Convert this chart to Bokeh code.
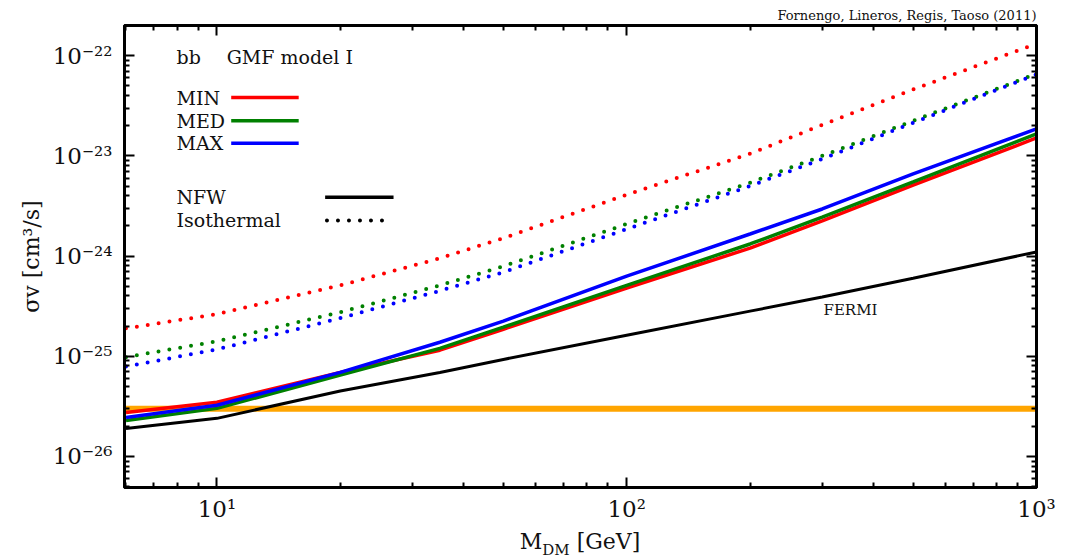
import math
from bokeh.plotting import figure
from bokeh.layouts import column
from bokeh.models import (FixedTicker, LogAxis, CustomJSTickFormatter, Label, Div)
from bokeh.embed import file_html
from bokeh.resources import INLINE

# ---------------- data ----------------
mass = [6, 10, 20, 35, 50, 100, 200, 300, 500, 1000]

nfw_min = [2.75e-26, 3.47e-26, 6.9e-26, 1.15e-25, 1.86e-25, 4.8e-25, 1.2e-24, 2.24e-24, 5.1e-24, 1.51e-23]
nfw_med = [2.29e-26, 3.02e-26, 6.5e-26, 1.2e-25, 1.95e-25, 5.1e-25, 1.32e-24, 2.45e-24, 5.5e-24, 1.66e-23]
nfw_max = [2.45e-26, 3.24e-26, 6.9e-26, 1.38e-25, 2.24e-25, 6.3e-25, 1.66e-24, 2.95e-24, 6.6e-24, 1.86e-23]

iso_min = [1.9e-25, 2.63e-25, 5.1e-25, 9.5e-25, 1.51e-24, 4.1e-24, 1.05e-23, 2.04e-23, 4.6e-23, 1.32e-22]
iso_med = [9.8e-26, 1.41e-25, 2.75e-25, 5.1e-25, 7.9e-25, 2.09e-24, 5.4e-24, 1.0e-23, 2.24e-23, 6.6e-23]
iso_max = [7.9e-26, 1.17e-25, 2.4e-25, 4.5e-25, 6.9e-25, 1.86e-24, 5.0e-24, 9.3e-24, 2.14e-23, 6.5e-23]

fermi = [1.9e-26, 2.4e-26, 4.5e-26, 6.9e-26, 9.3e-26, 1.62e-25, 2.82e-25, 3.9e-25, 6.0e-25, 1.1e-24]

thermal = 3e-26

x_major = [10, 100, 1000]
y_major = [1e-26, 1e-25, 1e-24, 1e-23, 1e-22]

# ---------------- layout ----------------
XR = (5.95, 1000.0)
YR = (4.9e-27, 2.0e-22)
FONT = "DejaVu Serif"

lx0, lx1 = math.log10(XR[0]), math.log10(XR[1])
ly0, ly1 = math.log10(YR[0]), math.log10(YR[1])
def fx(f):
    return 10 ** (lx0 + f * (lx1 - lx0))
def fy(f):
    return 10 ** (ly0 + f * (ly1 - ly0))

p = figure(x_axis_type="log", y_axis_type="log", x_range=XR, y_range=YR,
           frame_width=912, frame_height=462,
           min_border_left=124, min_border_right=27, min_border_top=25, min_border_bottom=42,
           output_backend="svg", toolbar_location=None)
p.grid.visible = False
p.outline_line_color = "black"
p.outline_line_width = 3
p.background_fill_color = "white"
p.border_fill_color = "white"

p.title.text = "Fornengo, Lineros, Regis, Taoso (2011)"
p.title.align = "right"
p.title.text_font = FONT
p.title.text_font_size = "13px"
p.title.text_font_style = "normal"
p.title.text_color = "#111111"
p.title.standoff = 6

x_minor = [k * 10 ** n for n in range(0, 3) for k in range(2, 10) if XR[0] <= k * 10 ** n <= XR[1]]
y_minor = [k * 10.0 ** n for n in range(-27, -21) for k in range(2, 10) if YR[0] <= k * 10.0 ** n <= YR[1]]

sup_code = """
const e = Math.round(Math.log10(tick));
const sup = {'-':'\u207b','0':'\u2070','1':'\u00b9','2':'\u00b2','3':'\u00b3','4':'\u2074','5':'\u2075','6':'\u2076','7':'\u2077','8':'\u2078','9':'\u2079'};
return '10' + String(e).split('').map(c => sup[c]).join('');
"""

def style_axis(ax, ticks, minors, show_labels):
    ax.ticker = FixedTicker(ticks=ticks, minor_ticks=minors)
    ax.axis_line_width = 3
    ax.axis_line_color = "black"
    ax.major_tick_in = 10
    ax.major_tick_out = 0
    ax.minor_tick_in = 5
    ax.minor_tick_out = 0
    ax.major_tick_line_width = 2
    ax.minor_tick_line_width = 2
    if show_labels:
        ax.formatter = CustomJSTickFormatter(code=sup_code)
        ax.major_label_text_font = FONT
        ax.major_label_text_font_size = "23px"
        ax.major_label_text_color = "#111111"
    else:
        ax.major_label_text_font_size = "1px"
        ax.major_label_text_color = None
        ax.major_label_standoff = 0

style_axis(p.xaxis[0], x_major, x_minor, True)
style_axis(p.yaxis[0], y_major, y_minor, True)
p.xaxis[0].major_label_standoff = 8
p.yaxis[0].major_label_standoff = 12

p.yaxis[0].axis_label = "σv [cm³/s]"
p.yaxis[0].axis_label_text_font = FONT
p.yaxis[0].axis_label_text_font_size = "22px"
p.yaxis[0].axis_label_text_font_style = "normal"
p.yaxis[0].axis_label_text_color = "#111111"
p.yaxis[0].axis_label_standoff = 6

top_ax = LogAxis()
right_ax = LogAxis()
style_axis(top_ax, x_major, x_minor, False)
style_axis(right_ax, y_major, y_minor, False)
p.add_layout(top_ax, "above")
p.add_layout(right_ax, "right")

# ---------------- curves ----------------
p.line([XR[0], XR[1]], [thermal, thermal], line_color="#ffa500", line_width=6)

p.line(mass, fermi, line_color="black", line_width=3)

dot = dict(line_width=4, line_dash="0 11", line_cap="round")
p.line(mass, iso_min, line_color="#ff0000", **dot)
p.line(mass, iso_med, line_color="#008000", **dot)
p.line(mass, iso_max, line_color="#0000ff", **dot)

p.line(mass, nfw_min, line_color="#ff0000", line_width=3.5)
p.line(mass, nfw_med, line_color="#008000", line_width=3.5)
p.line(mass, nfw_max, line_color="#0000ff", line_width=3.5)

# ---------------- legend / annotations ----------------
def label(fxv, fyv, text, size, align="left", baseline="middle"):
    p.add_layout(Label(x=fx(fxv), y=fy(fyv), text=text, text_font=FONT,
                       text_font_size=size, text_align=align, text_baseline=baseline,
                       text_color="#111111"))

label(0.057, 0.931, "bb", "19px")
label(0.112, 0.931, "GMF model I", "19px")

for yy, name, col in [(0.844, "MIN", "#ff0000"), (0.794, "MED", "#008000"), (0.745, "MAX", "#0000ff")]:
    label(0.057, yy, name, "19px")
    p.line([fx(0.117), fx(0.191)], [fy(yy), fy(yy)], line_color=col, line_width=3.5)

label(0.057, 0.628, "NFW", "19px")
p.line([fx(0.220), fx(0.295)], [fy(0.628), fy(0.628)], line_color="black", line_width=3.5)
label(0.057, 0.578, "Isothermal", "19px")
p.line([fx(0.222), fx(0.290)], [fy(0.578), fy(0.578)], line_color="black", **dot)

label(0.796, 0.385, "FERMI", "15px", align="center")

# x-axis label M_DM [GeV], centred under the frame
xlabel = Div(
    text=("<div style=\"font-family:'DejaVu Serif'; font-size:22px; line-height:22px; "
          "color:#111111; text-align:center; width:912px; white-space:nowrap;\">"
          "M<sub style=\"font-size:15px; line-height:0; vertical-align:-6px;\">DM</sub>"
          " [GeV]</div>"),
    width=912, height=21, margin=(2, 0, 0, 124))

layout = column(p, xlabel, spacing=0)

open("out.html", "w").write(file_html(layout, INLINE))
